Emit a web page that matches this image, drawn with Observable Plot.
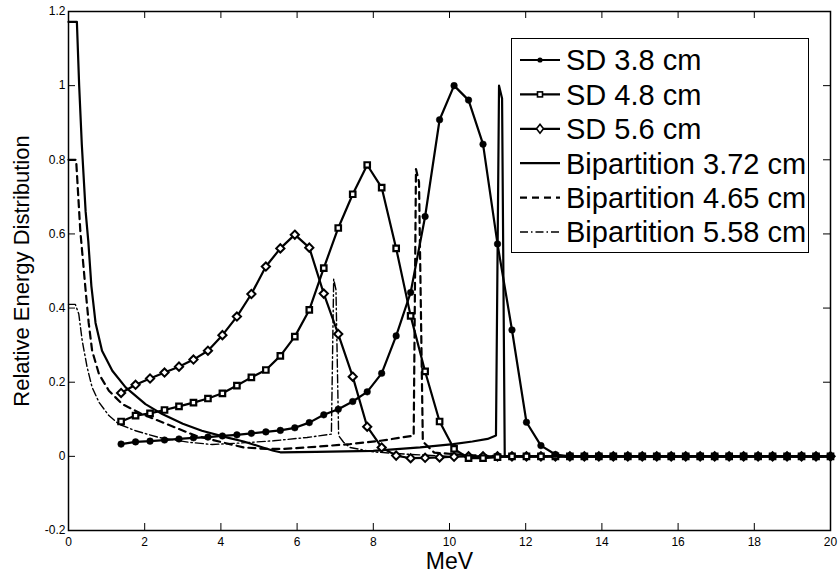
<!DOCTYPE html>
<html><head><meta charset="utf-8">
<script src="https://cdn.jsdelivr.net/npm/d3@7"></script>
<script src="https://cdn.jsdelivr.net/npm/@observablehq/plot@0.6"></script>
<style>
body{margin:0;background:#fff;}
#wrap{position:relative;width:839px;height:578px;font-family:"Liberation Sans",Arial,sans-serif;}
#legend{position:absolute;left:511px;top:38px;}
</style></head><body><div id="wrap"></div>
<script>
// ---- data ----
const xTicks = [0, 2, 4, 6, 8, 10, 12, 14, 16, 18, 20];
const yTicks = [-0.2, 0, 0.2, 0.4, 0.6, 0.8, 1, 1.2];
const yTickLabels = ["-0.2", "0", "0.2", "0.4", "0.6", "0.8", "1", "1.2"];

const sdX = [1.38, 1.76, 2.14, 2.52, 2.90, 3.28, 3.66, 4.04, 4.42, 4.80,
  5.18, 5.56, 5.94, 6.32, 6.70, 7.08, 7.46, 7.84, 8.22, 8.60,
  8.98, 9.36, 9.74, 10.12, 10.50, 10.88, 11.26, 11.64, 12.02, 12.40,
  12.78, 13.16, 13.54, 13.92, 14.30, 14.68, 15.06, 15.44, 15.82, 16.20,
  16.58, 16.96, 17.34, 17.72, 18.10, 18.48, 18.86, 19.24, 19.62, 20.00];
const sd38 = [0.033, 0.039, 0.041, 0.044, 0.047, 0.050, 0.052, 0.055, 0.058, 0.062,
  0.066, 0.070, 0.077, 0.091, 0.112, 0.127, 0.148, 0.174, 0.224, 0.325,
  0.442, 0.647, 0.908, 1.000, 0.961, 0.842, 0.573, 0.341, 0.092, 0.029,
  0.005, 0, 0, 0, 0, 0, 0, 0, 0, 0,
  0, 0, 0, 0, 0, 0, 0, 0, 0, 0];
const sd48 = [0.094, 0.110, 0.116, 0.125, 0.135, 0.145, 0.156, 0.170, 0.191, 0.213,
  0.233, 0.271, 0.323, 0.395, 0.508, 0.616, 0.707, 0.786, 0.725, 0.561,
  0.379, 0.229, 0.094, 0.020, -0.005, -0.005, -0.002, 0, 0, 0,
  0, 0, 0, 0, 0, 0, 0, 0, 0, 0,
  0, 0, 0, 0, 0, 0, 0, 0, 0, 0];
const sd56 = [0.171, 0.193, 0.210, 0.226, 0.242, 0.261, 0.285, 0.327, 0.377, 0.438,
  0.512, 0.561, 0.598, 0.563, 0.439, 0.330, 0.215, 0.080, 0.024, 0.002,
  -0.005, -0.004, -0.003, -0.001, 0, 0, 0, 0, 0, 0,
  0, 0, 0, 0, 0, 0, 0, 0, 0, 0,
  0, 0, 0, 0, 0, 0, 0, 0, 0, 0];

const bip372X = [0, 0.22, 0.28, 0.35, 0.45, 0.52, 0.60, 0.71, 0.88, 1.15, 1.50, 2.02, 2.46, 3.0, 3.5, 4.2, 4.6, 5.1, 5.38, 5.56,
  6.5, 8.0, 9.23, 10.1, 10.6, 11.0, 11.22, 11.30, 11.38, 11.45, 12.0, 20.0];
const bip372Y = [1.172, 1.172, 1.0, 0.84, 0.66, 0.58, 0.46, 0.36, 0.285, 0.231, 0.186, 0.141, 0.114, 0.088, 0.069, 0.050, 0.040, 0.024, 0.015, 0.011,
  0.012, 0.015, 0.024, 0.033, 0.040, 0.047, 0.056, 1.0, 0.965, 0.0, 0.0, 0.0];

const bip465X = [0, 0.2, 0.31, 0.45, 0.53, 0.62, 0.8, 1.06, 1.41, 1.93, 2.46, 3.33, 4.03, 4.6, 5.2, 5.64, 6.5, 7.39, 8.19,
  9.06, 9.12, 9.2, 9.3, 9.6, 10.5, 11.5, 20.0];
const bip465Y = [0.80, 0.80, 0.608, 0.447, 0.36, 0.285, 0.222, 0.177, 0.141, 0.114, 0.092, 0.056, 0.038, 0.024, 0.020, 0.020, 0.026, 0.033, 0.042,
  0.056, 0.775, 0.74, 0.04, 0.01, 0.003, 0, 0];

const bip558X = [0, 0.18, 0.27, 0.36, 0.49, 0.62, 0.8, 1.06, 1.32, 1.76, 2.37, 3.16, 3.77, 4.51, 5.38, 6.26, 6.9,
  6.96, 7.02, 7.09, 7.22, 7.39, 8.0, 9.0, 10.0, 20.0];
const bip558Y = [0.41, 0.41, 0.384, 0.312, 0.24, 0.186, 0.146, 0.11, 0.087, 0.069, 0.051, 0.038, 0.032, 0.036, 0.042, 0.051, 0.06,
  0.478, 0.45, 0.056, 0.038, 0.024, 0.012, 0.005, 0, 0];

const legendLabels = ["SD 3.8 cm", "SD 4.8 cm", "SD 5.6 cm", "Bipartition 3.72 cm", "Bipartition 4.65 cm", "Bipartition 5.58 cm"];
const xLabel = "MeV";
const yLabel = "Relative Energy Distribution";

// ---- build rows ----
const toRows = (xs, ys) => xs.map((x, i) => ({x, y: ys[i]}));
const rSD38 = toRows(sdX, sd38), rSD48 = toRows(sdX, sd48), rSD56 = toRows(sdX, sd56);
const rB1 = toRows(bip372X, bip372Y), rB2 = toRows(bip465X, bip465Y), rB3 = toRows(bip558X, bip558Y);

const W = 839, H = 578, mL = 68, mR = 9, mT = 11, mB = 48;
const pw = W - mL - mR, ph = H - mT - mB, tk = 7;
const LWD = 2.2;

const chart = Plot.plot({
  width: W, height: H, marginLeft: mL, marginRight: mR, marginTop: mT, marginBottom: mB,
  style: {fontFamily: "'Liberation Sans', Arial, sans-serif", background: "white", color: "black", overflow: "visible"},
  x: {domain: [0, 20], axis: null},
  y: {domain: [-0.2, 1.2], axis: null},
  marks: [
    // ticks (inward, all four sides)
    Plot.tickX(xTicks, {x: d => d, insetTop: ph - tk, stroke: "black", strokeWidth: 1}),
    Plot.tickX(xTicks, {x: d => d, insetBottom: ph - tk, stroke: "black", strokeWidth: 1}),
    Plot.tickY(yTicks, {y: d => d, insetRight: pw - tk, stroke: "black", strokeWidth: 1}),
    Plot.tickY(yTicks, {y: d => d, insetLeft: pw - tk, stroke: "black", strokeWidth: 1}),
    // tick labels
    Plot.text(xTicks, {x: d => d, frameAnchor: "bottom", dy: 7, lineAnchor: "top", text: d => String(d), fontSize: 12, fill: "black"}),
    Plot.text(yTicks, {y: d => d, frameAnchor: "left", dx: -3, textAnchor: "end", text: (d, i) => yTickLabels[i], fontSize: 12, fill: "black"}),
    // axis labels
    Plot.text([xLabel], {frameAnchor: "bottom", dy: 31, lineAnchor: "middle", text: d => d, fontSize: 23, fill: "black"}),
    Plot.text([yLabel], {frameAnchor: "left", dx: -47, rotate: -90, textAnchor: "middle", lineAnchor: "middle", text: d => d, fontSize: 22, fill: "black"}),
    // bipartition curves
    Plot.line(rB3, {x: "x", y: "y", stroke: "black", strokeWidth: 1.4, strokeDasharray: "8,3,1.5,3"}),
    Plot.line(rB2, {x: "x", y: "y", stroke: "black", strokeWidth: LWD, strokeDasharray: "7,5"}),
    Plot.line(rB1, {x: "x", y: "y", stroke: "black", strokeWidth: LWD}),
    // SD curves
    Plot.line(rSD56, {x: "x", y: "y", stroke: "black", strokeWidth: LWD}),
    Plot.dot(rSD56, {x: "x", y: "y", symbol: "diamond2", r: 3.7, fill: "white", stroke: "black", strokeWidth: 2}),
    Plot.line(rSD48, {x: "x", y: "y", stroke: "black", strokeWidth: LWD}),
    Plot.dot(rSD48, {x: "x", y: "y", symbol: "square", r: 3.1, fill: "white", stroke: "black", strokeWidth: 2.2}),
    Plot.line(rSD38, {x: "x", y: "y", stroke: "black", strokeWidth: LWD}),
    Plot.dot(rSD38, {x: "x", y: "y", symbol: "circle", r: 3.3, fill: "black", stroke: "black", strokeWidth: 0.5}),
    Plot.frame({stroke: "black", strokeWidth: 1.5})
  ]
});
const wrap = document.getElementById("wrap");
wrap.appendChild(chart);

// ---- legend ----
const LW = 298, LH = 215;
const leg = d3.select(wrap).append("svg").attr("id", "legend").attr("width", LW).attr("height", LH);
leg.append("rect").attr("x", 0.5).attr("y", 0.5).attr("width", LW - 1).attr("height", LH - 1)
  .attr("fill", "white").attr("stroke", "black").attr("stroke-width", 1);
const styles = [
  {dash: null, sw: 2.2, sym: "circle"},
  {dash: null, sw: 2.2, sym: "square"},
  {dash: null, sw: 2.2, sym: "diamond"},
  {dash: null, sw: 2.2, sym: null},
  {dash: "7,5", sw: 2.2, sym: null},
  {dash: "8,3,1.5,3", sw: 1.4, sym: null}
];
legendLabels.forEach((lab, i) => {
  const cy = 22 + i * 34.4;
  const st = styles[i];
  const g = leg.append("g");
  g.append("line").attr("x1", 9).attr("x2", 49).attr("y1", cy).attr("y2", cy)
    .attr("stroke", "black").attr("stroke-width", st.sw).attr("stroke-dasharray", st.dash);
  if (st.sym === "circle") g.append("circle").attr("cx", 29).attr("cy", cy).attr("r", 2.6).attr("fill", "black");
  if (st.sym === "square") g.append("rect").attr("x", 26.5).attr("y", cy - 2.5).attr("width", 5).attr("height", 5).attr("fill", "white").attr("stroke", "black").attr("stroke-width", 1.6);
  if (st.sym === "diamond") g.append("path").attr("d", `M29,${cy - 4.5}L32.5,${cy}L29,${cy + 4.5}L25.5,${cy}Z`).attr("fill", "white").attr("stroke", "black").attr("stroke-width", 1.6);
  g.append("text").attr("x", 55).attr("y", cy).attr("dy", "0.36em")
    .attr("font-family", "'Liberation Sans', Arial, sans-serif").attr("font-size", 29).attr("fill", "black").text(lab);
});
</script></body></html>
